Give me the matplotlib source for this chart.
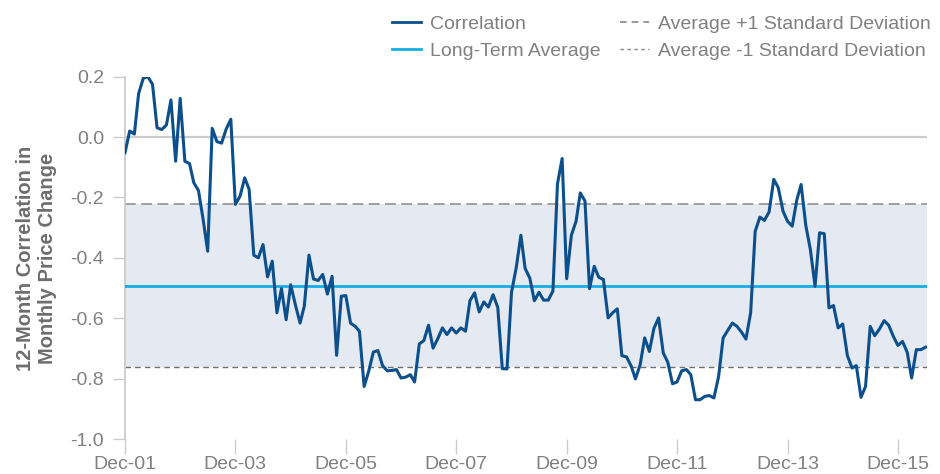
import matplotlib
matplotlib.use("Agg")
import matplotlib.pyplot as plt
from matplotlib.lines import Line2D
import pandas as pd

plt.rcParams['font.family'] = ['Liberation Sans', 'DejaVu Sans']

# monthly 12-month correlation, starting Dec-01
correlation = [
    -0.052, 0.02, 0.01, 0.144, 0.195, 0.20, 0.175, 0.031, 0.025, 0.04,
    0.123, -0.08, 0.128, -0.08, -0.088, -0.151, -0.177, -0.27, -0.378, 0.029,
    -0.015, -0.02, 0.026, 0.059, -0.223, -0.196, -0.135, -0.173, -0.391, -0.40,
    -0.356, -0.463, -0.411, -0.582, -0.502, -0.605, -0.489, -0.555, -0.616, -0.56,
    -0.391, -0.47, -0.475, -0.455, -0.52, -0.461, -0.723, -0.527, -0.525, -0.616,
    -0.627, -0.643, -0.826, -0.776, -0.712, -0.707, -0.757, -0.774, -0.773, -0.77,
    -0.798, -0.795, -0.787, -0.811, -0.685, -0.674, -0.623, -0.699, -0.668, -0.632,
    -0.654, -0.632, -0.649, -0.632, -0.643, -0.542, -0.516, -0.579, -0.546, -0.563,
    -0.522, -0.564, -0.767, -0.768, -0.514, -0.433, -0.325, -0.435, -0.467, -0.542,
    -0.514, -0.54, -0.54, -0.51, -0.155, -0.071, -0.469, -0.325, -0.279, -0.185,
    -0.212, -0.502, -0.428, -0.464, -0.472, -0.599, -0.582, -0.569, -0.724, -0.728,
    -0.759, -0.801, -0.754, -0.665, -0.71, -0.634, -0.599, -0.715, -0.746, -0.817,
    -0.811, -0.774, -0.77, -0.787, -0.87, -0.87, -0.859, -0.856, -0.864, -0.793,
    -0.665, -0.64, -0.616, -0.627, -0.647, -0.669, -0.582, -0.312, -0.265, -0.276,
    -0.248, -0.14, -0.168, -0.245, -0.279, -0.295, -0.207, -0.157, -0.293, -0.372,
    -0.494, -0.317, -0.32, -0.566, -0.558, -0.632, -0.619, -0.724, -0.765, -0.757,
    -0.862, -0.826, -0.627, -0.658, -0.636, -0.608, -0.623, -0.66, -0.69, -0.677,
    -0.713, -0.798, -0.704, -0.704, -0.696,
]
dates = pd.date_range('2001-12-01', periods=len(correlation), freq='MS')

long_term_avg = -0.494
plus_1_sd = -0.223
minus_1_sd = -0.761

tick_dates = pd.to_datetime(['2001-12-01', '2003-12-01', '2005-12-01', '2007-12-01',
                             '2009-12-01', '2011-12-01', '2013-12-01', '2015-12-01'])
tick_labels = ['Dec-01', 'Dec-03', 'Dec-05', 'Dec-07', 'Dec-09', 'Dec-11', 'Dec-13', 'Dec-15']
y_ticks = [-1.0, -0.8, -0.6, -0.4, -0.2, 0.0, 0.2]

dark_blue = '#0b4f8c'
light_blue = '#12afe6'
band = '#e4e9f2'
grey_text = '#808080'

fig = plt.figure(figsize=(9.4, 4.74), dpi=100)
ax = fig.add_axes([125 / 940, 1 - 439 / 474, (927 - 125) / 940, (439 - 76.7) / 474])

x_left = dates[0]
x_right = dates[0] + pd.Timedelta(days=174.3 * 30.44)

ax.axhspan(minus_1_sd, plus_1_sd, color=band, zorder=0, lw=0)
ax.axhline(0.0, color='#cccccc', lw=1.6, zorder=1)
ax.axhline(plus_1_sd, color='#999999', lw=1.3, dashes=(6, 3), zorder=2)
ax.axhline(minus_1_sd, color='#707070', lw=1.0, dashes=(4, 3), zorder=2)
ax.axhline(long_term_avg, color=light_blue, lw=2.0, zorder=3)
ax.plot(dates, correlation, color=dark_blue, lw=2.2, zorder=4)

ax.set_xlim(x_left, x_right)
ax.set_ylim(-1.0, 0.2)
ax.set_yticks(y_ticks)
ax.set_yticklabels([f'{v:.1f}' for v in y_ticks])
ax.set_xticks(tick_dates)
ax.set_xticklabels(tick_labels)

for s in ['top', 'right', 'bottom']:
    ax.spines[s].set_visible(False)
ax.spines['left'].set_color('#cccccc')
ax.spines['left'].set_linewidth(1.3)
ax.tick_params(axis='y', length=9, width=1.0, color='#cccccc', labelcolor=grey_text,
               labelsize=14, pad=6)
ax.tick_params(axis='x', length=11, width=1.0, color='#cccccc', labelcolor=grey_text,
               labelsize=14, pad=1.5)

fig.text(37 / 940, 1 - 258 / 474, '12-Month Correlation in\nMonthly Price Change',
         rotation=90, ha='center', va='center', fontsize=14.5, fontweight='bold',
         color='#6d6d6d', linespacing=1.2)

handles = [
    Line2D([], [], color=dark_blue, lw=2.0),
    Line2D([], [], color=light_blue, lw=2.0),
    Line2D([], [], color='#888888', lw=1.2, dashes=(4, 3)),
    Line2D([], [], color='#888888', lw=1.0, dashes=(2.5, 2.5)),
]
labels = ['Correlation', 'Long-Term Average',
          'Average +1 Standard Deviation', 'Average -1 Standard Deviation']
leg = fig.legend(handles, labels, ncol=2, frameon=False, loc='upper left',
                 bbox_to_anchor=(376 / 940, 1.0), fontsize=14, handlelength=1.5,
                 handletextpad=0.5, columnspacing=0.95, labelspacing=0.45,
                 borderaxespad=0.4)
for t in leg.get_texts():
    t.set_color(grey_text)

fig.savefig('out.png', dpi=100)
